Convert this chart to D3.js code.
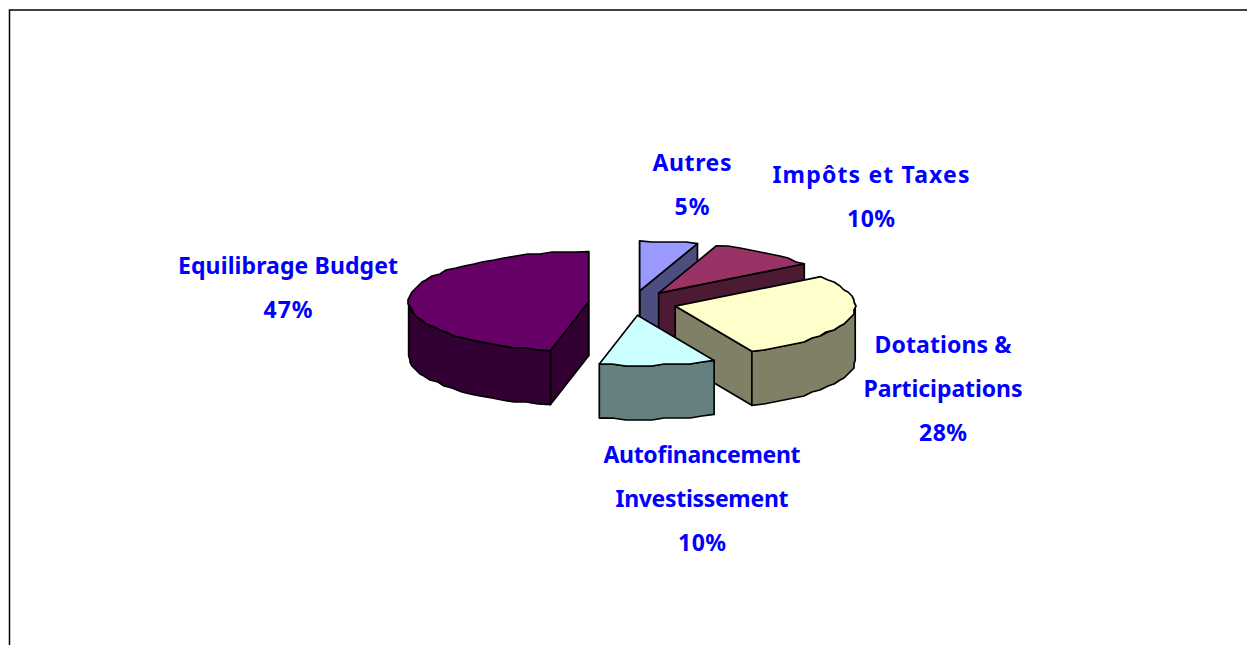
<!DOCTYPE html>
<html>
<head>
<meta charset="utf-8">
<script src="https://d3js.org/d3.v7.min.js"></script>
<style>
    html, body { margin: 0; padding: 0; background: #fff; overflow: hidden; }
    svg { display: block; }
    .label { font-family: 'Noto Sans', sans-serif; font-weight: 700; font-size: 23px; fill: #0000ff; text-anchor: middle; }
</style>
</head>
<body>
<svg width="1247" height="645"></svg>
<script>
    const categories = ['Autres', 'Impôts et Taxes', 'Dotations & Participations', 'Autofinancement Investissement', 'Equilibrage Budget'];
    const values = [5.2, 9.8, 28, 10.4, 46.6];
    const labelLines = [['Autres'], ['Impôts et Taxes'], ['Dotations &', 'Participations'], ['Autofinancement', 'Investissement'], ['Equilibrage Budget']];
    const colors = ['#9999ff', '#993366', '#ffffcc', '#ccffff', '#660066'];
    const labelPos = [[692, 171], [871, 183], [943, 353], [702, 463], [288, 274]];
    // measured line widths, the original face is wider than anything installed
    const labelWidths = [[79, 35], [197, 48], [137, 159, 48], [197, 173, 48], [220, 49]];

    const svg = d3.select('svg');

    // outer frame, runs off the page on the right and bottom
    svg.append('path')
        .attr('d', 'M9.5,660V10H1260')
        .attr('fill', 'none')
        .attr('stroke', '#000')
        .attr('stroke-width', 1.5);

    const depth = 54;
    const explode = 0.245;
    const x = d3.scaleLinear().domain([-1, 1]).range([452.5, 812.5]);
    const y = d3.scaleLinear().domain([-1, 1]).range([253, 353]);

    const pie = d3.pie().sort(null).value(d => d);
    const slices = pie(values);

    const line = d3.line();
    const shade = c => { const r = d3.rgb(c); return d3.rgb(r.r / 2, r.g / 2, r.b / 2).formatHex(); };

    // rim wobble: the original is a coarse polygon snapped to a pixel grid
    const snap = v => Math.round(v / 2) * 2;

    function slicePoints(s) {
        const mid = (s.startAngle + s.endAngle) / 2;
        const ox = explode * Math.sin(mid), oy = -explode * Math.cos(mid);
        const center = [x(ox), y(oy)];
        const rim = a => [x(ox + Math.sin(a)), y(oy - Math.cos(a))];
        const arcPts = (a, b) => {
            const n = Math.max(1, Math.round((b - a) / 0.07));
            return d3.range(n + 1).map(i => {
                const t = a + (b - a) * i / n;
                const q = rim(t);
                return (i === 0 || i === n) ? q : [snap(q[0]), snap(q[1])];
            });
        };
        return { center, rim, arcPts };
    }
    const down = p => [p[0], p[1] + depth];

    const order = d3.range(slices.length).sort((a, b) =>
        d3.descending(Math.cos((slices[a].startAngle + slices[a].endAngle) / 2),
                       Math.cos((slices[b].startAngle + slices[b].endAngle) / 2)));

    const g = svg.append('g')
        .attr('stroke', '#000')
        .attr('stroke-width', 1.7)
        .attr('stroke-linejoin', 'round');

    order.forEach(i => {
        const s = slices[i];
        const p = slicePoints(s);
        const dark = shade(colors[i]);
        const face = a => [p.center, p.rim(a), down(p.rim(a)), down(p.center)];
        const eps = 1e-6;

        if (Math.sin(s.startAngle) < eps && s.startAngle > 3)
            g.append('path').attr('d', line(face(s.startAngle)) + 'Z').attr('fill', dark);
        if (Math.sin(s.endAngle) > -eps)
            g.append('path').attr('d', line(face(s.endAngle)) + 'Z').attr('fill', dark);
        if (s.startAngle < eps)
            g.append('path').attr('d', line(face(s.startAngle)) + 'Z').attr('fill', dark);

        // outer wall, only the part facing the viewer
        const a = Math.max(s.startAngle, Math.PI / 2), b = Math.min(s.endAngle, Math.PI * 1.5);
        if (b > a) {
            const top = p.arcPts(a, b);
            g.append('path')
                .attr('d', line(top.concat(top.map(down).reverse())) + 'Z')
                .attr('fill', dark);
        }

        g.append('path')
            .attr('d', line([p.center].concat(p.arcPts(s.startAngle, s.endAngle))) + 'Z')
            .attr('fill', colors[i]);
    });

    slices.forEach((s, i) => {
        const lines = labelLines[i].concat(Math.round(values[i]) + '%');
        lines.forEach((l, k) => {
            svg.append('text')
                .attr('class', 'label')
                .attr('x', labelPos[i][0])
                .attr('y', labelPos[i][1] + k * 44)
                .attr('textLength', labelWidths[i][k])
                .attr('lengthAdjust', 'spacing')
                .text(l);
        });
    });
</script>
</body>
</html>
